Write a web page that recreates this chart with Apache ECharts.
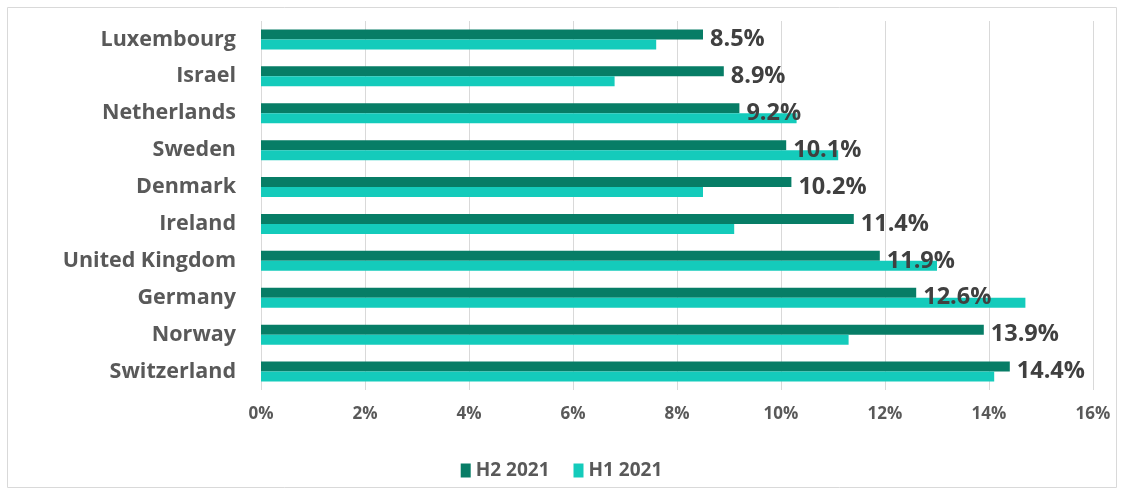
<!DOCTYPE html>
<html>
<head>
<meta charset="UTF-8">
<script src="https://cdn.jsdelivr.net/npm/echarts@6/dist/echarts.min.js"></script>
<style>
  body, html { margin: 0; padding: 0; background: #fff; }
  #main { width: 1123px; height: 494px; }
</style>
</head>
<body>
<div id="main"></div>
<script>
var countries = ["Luxembourg", "Israel", "Netherlands", "Sweden", "Denmark", "Ireland", "United Kingdom", "Germany", "Norway", "Switzerland"];
var h2_2021 = [8.5, 8.9, 9.2, 10.1, 10.2, 11.4, 11.9, 12.6, 13.9, 14.4];
var h1_2021 = [7.6, 6.8, 10.3, 11.1, 8.5, 9.1, 13.0, 14.7, 11.3, 14.1];
var xTicks = [0, 2, 4, 6, 8, 10, 12, 14, 16];

var myChart = echarts.init(document.getElementById('main'));

var option = {
  animation: false,
  graphic: [{
    type: 'rect',
    shape: { x: 7.5, y: 7.5, width: 1109, height: 480 },
    style: { fill: 'none', stroke: '#d9d9d9', lineWidth: 1 },
    silent: true
  }],
  grid: { left: 261, right: 30, top: 21, bottom: 104 },
  legend: {
    data: ["H2 2021", "H1 2021"],
    left: 'center',
    top: 456,
    itemWidth: 10,
    itemHeight: 14,
    itemGap: 24,
    icon: 'rect',
    textStyle: { fontFamily: 'Open Sans', fontSize: 19, fontWeight: 'bold', color: '#595959' }
  },
  xAxis: {
    type: 'value',
    min: xTicks[0],
    max: xTicks[xTicks.length - 1],
    interval: 2,
    axisLine: { show: false },
    axisTick: { show: false },
    splitLine: { lineStyle: { color: '#d9d9d9', width: 1 } },
    axisLabel: {
      formatter: '{value}%',
      color: '#595959',
      fontFamily: 'Open Sans',
      fontWeight: 'bold',
      fontSize: 17,
      margin: 16
    }
  },
  yAxis: {
    type: 'category',
    data: countries,
    inverse: true,
    axisLine: { show: false },
    axisTick: { show: false },
    axisLabel: {
      color: '#595959',
      fontFamily: 'Open Sans',
      fontWeight: 'bold',
      fontSize: 21.5,
      margin: 25
    }
  },
  series: [
    {
      name: "H2 2021",
      type: 'bar',
      data: h2_2021,
      barWidth: 10,
      barGap: '0%',
      itemStyle: { color: '#077d66' },
      label: {
        show: true,
        position: 'right',
        distance: 7,
        offset: [0, 5],
        formatter: '{c}%',
        color: '#404040',
        fontFamily: 'Open Sans',
        fontWeight: 'bold',
        fontSize: 23.5
      }
    },
    {
      name: "H1 2021",
      type: 'bar',
      data: h1_2021,
      barWidth: 10,
      barGap: '0%',
      itemStyle: { color: '#14cbbb' }
    }
  ]
};

myChart.setOption(option);
</script>
</body>
</html>
